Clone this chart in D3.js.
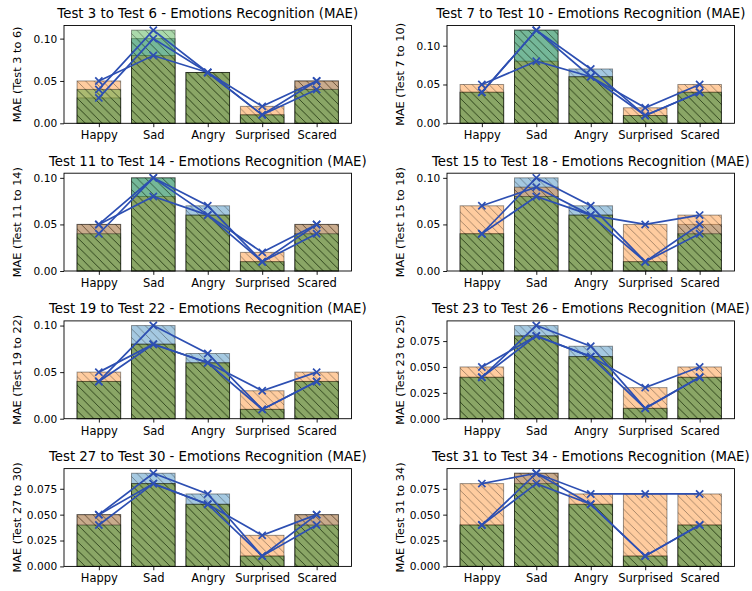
<!DOCTYPE html>
<html><head><meta charset="utf-8">
<script src="https://cdn.jsdelivr.net/npm/d3@7"></script>
<style>body{margin:0;background:#fff}</style>
</head><body><svg id="chart" width="752" height="591"></svg>
<script>
const emotions = ["Happy", "Sad", "Angry", "Surprised", "Scared"];
const titles = [
  "Test 3 to Test 6 - Emotions Recognition (MAE)",
  "Test 7 to Test 10 - Emotions Recognition (MAE)",
  "Test 11 to Test 14 - Emotions Recognition (MAE)",
  "Test 15 to Test 18 - Emotions Recognition (MAE)",
  "Test 19 to Test 22 - Emotions Recognition (MAE)",
  "Test 23 to Test 26 - Emotions Recognition (MAE)",
  "Test 27 to Test 30 - Emotions Recognition (MAE)",
  "Test 31 to Test 34 - Emotions Recognition (MAE)"
];
const yLabels = [
  "MAE (Test 3 to 6)", "MAE (Test 7 to 10)", "MAE (Test 11 to 14)", "MAE (Test 15 to 18)",
  "MAE (Test 19 to 22)", "MAE (Test 23 to 25)", "MAE (Test 27 to 30)", "MAE (Test 31 to 34)"
];
// first test of each group (blue)
const firstTest = [
  [0.03, 0.10, 0.06, 0.01, 0.05],
  [0.04, 0.12, 0.07, 0.01, 0.04],
  [0.05, 0.10, 0.07, 0.01, 0.05],
  [0.04, 0.10, 0.07, 0.01, 0.05],
  [0.04, 0.10, 0.07, 0.01, 0.04],
  [0.04, 0.09, 0.07, 0.01, 0.04],
  [0.05, 0.09, 0.07, 0.01, 0.05],
  [0.04, 0.09, 0.06, 0.01, 0.04]
];
// second test (orange)
const secondTest = [
  [0.05, 0.08, 0.06, 0.02, 0.05],
  [0.05, 0.08, 0.06, 0.02, 0.05],
  [0.05, 0.08, 0.06, 0.02, 0.05],
  [0.07, 0.09, 0.06, 0.05, 0.06],
  [0.05, 0.08, 0.06, 0.03, 0.05],
  [0.05, 0.08, 0.06, 0.03, 0.05],
  [0.05, 0.08, 0.06, 0.03, 0.05],
  [0.08, 0.09, 0.07, 0.07, 0.07]
];
// third test (green)
const thirdTest = [
  [0.04, 0.11, 0.06, 0.01, 0.04],
  [0.04, 0.12, 0.06, 0.01, 0.04],
  [0.04, 0.10, 0.06, 0.01, 0.04],
  [0.04, 0.08, 0.06, 0.01, 0.04],
  [0.04, 0.08, 0.06, 0.01, 0.04],
  [0.04, 0.08, 0.06, 0.01, 0.04],
  [0.04, 0.08, 0.06, 0.01, 0.04],
  [0.04, 0.08, 0.06, 0.01, 0.04]
];
const yTicks = [
  [0, 0.05, 0.10], [0, 0.05, 0.10], [0, 0.05, 0.10], [0, 0.05, 0.10],
  [0, 0.05, 0.10], [0, 0.025, 0.05, 0.075], [0, 0.025, 0.05, 0.075], [0, 0.025, 0.05, 0.075]
];
const yTickFormats = [".2f", ".2f", ".2f", ".2f", ".2f", ".3f", ".3f", ".3f"];

const seriesColors = ["#1f77b4", "#ff7f0e", "#2ca02c"];
const lineColor = "#2d4fb2";
const FONT = "DejaVu Sans, sans-serif";

const svg = d3.select("#chart");
const hs = 8.5;
const defs = svg.append("defs");
defs.append("pattern").attr("id", "hatch").attr("patternUnits", "userSpaceOnUse")
  .attr("width", hs).attr("height", hs)
  .append("path")
  .attr("d", `M0,0L${hs},${hs}M-1,${hs - 1}L1,${hs + 1}M${hs - 1},-1L${hs + 1},1`)
  .attr("stroke", "#000").attr("stroke-width", 0.85).attr("fill", "none");

const colX = [64, 447];
const rowTop = [25.5, 173.2, 320.9, 468.6];
const W = 287.5, H = 97.8;
const tickLen = 3.85;
const xTickFont = 11.5;
const yTickFont = 10.6;

for (let p = 0; p < 8; p++) {
  const x0 = colX[p % 2], y0 = rowTop[Math.floor(p / 2)];
  const g = svg.append("g").attr("transform", `translate(${x0},${y0})`);
  const all = [firstTest[p], secondTest[p], thirdTest[p]];
  const maxV = d3.max(all.flat());
  const xs = d3.scaleLinear().domain([-0.64, 4.64]).range([0, W]);
  const ys = d3.scaleLinear().domain([0, maxV * 1.05]).range([H, 0]);
  const bw = xs(0.8) - xs(0);

  all.forEach((vals, k) => {
    const sg = g.append("g");
    vals.forEach((v, i) => {
      const bx = xs(i - 0.4), by = ys(v), bh = ys(0) - ys(v);
      sg.append("rect").attr("x", bx).attr("y", by).attr("width", bw).attr("height", bh)
        .attr("fill", seriesColors[k]).attr("fill-opacity", 0.4);
      sg.append("rect").attr("x", bx).attr("y", by).attr("width", bw).attr("height", bh)
        .attr("fill", "url(#hatch)").attr("opacity", 0.4);
      sg.append("rect").attr("x", bx).attr("y", by).attr("width", bw).attr("height", bh)
        .attr("fill", "none").attr("stroke", "#000").attr("stroke-opacity", 0.4).attr("stroke-width", 1);
    });
  });

  const line = d3.line().x((d, i) => xs(i)).y(d => ys(d));
  const r = 3.6;
  all.forEach(vals => {
    g.append("path").attr("d", line(vals)).attr("fill", "none")
      .attr("stroke", lineColor).attr("stroke-width", 1.7);
    g.selectAll(null).data(vals).enter().append("path")
      .attr("transform", (d, i) => `translate(${xs(i)},${ys(d)})`)
      .attr("d", `M${-r},${-r}L${r},${r}M${-r},${r}L${r},${-r}`)
      .attr("stroke", lineColor).attr("stroke-width", 1.7).attr("fill", "none");
  });

  // frame
  g.append("rect").attr("x", 0).attr("y", 0).attr("width", W).attr("height", H)
    .attr("fill", "none").attr("stroke", "#000").attr("stroke-width", 0.9);

  const yAxis = d3.axisLeft(ys).tickValues(yTicks[p]).tickFormat(d3.format(yTickFormats[p]))
    .tickSize(tickLen).tickPadding(3);
  const ya = g.append("g").call(yAxis);
  ya.select(".domain").remove();
  ya.selectAll("line").attr("stroke", "#000").attr("stroke-width", 0.9);
  ya.selectAll("text").attr("font-family", FONT).attr("font-size", yTickFont).attr("fill", "#000");

  const xAxis = d3.axisBottom(xs).tickValues(d3.range(emotions.length))
    .tickFormat(i => emotions[i]).tickSize(tickLen).tickPadding(3.85);
  const xa = g.append("g").attr("transform", `translate(0,${H})`).call(xAxis);
  xa.select(".domain").remove();
  xa.selectAll("line").attr("stroke", "#000").attr("stroke-width", 0.9);
  xa.selectAll("text").attr("font-family", FONT).attr("font-size", xTickFont).attr("fill", "#000");

  g.append("text").attr("x", W / 2).attr("y", -7.5).attr("text-anchor", "middle")
    .attr("font-family", FONT).attr("font-size", 13.3).attr("fill", "#000").text(titles[p]);

  g.append("text").attr("transform", `translate(-43,${H / 2}) rotate(-90)`)
    .attr("text-anchor", "middle").attr("font-family", FONT).attr("font-size", 11.3)
    .attr("fill", "#000").text(yLabels[p]);
}
</script></body></html>
